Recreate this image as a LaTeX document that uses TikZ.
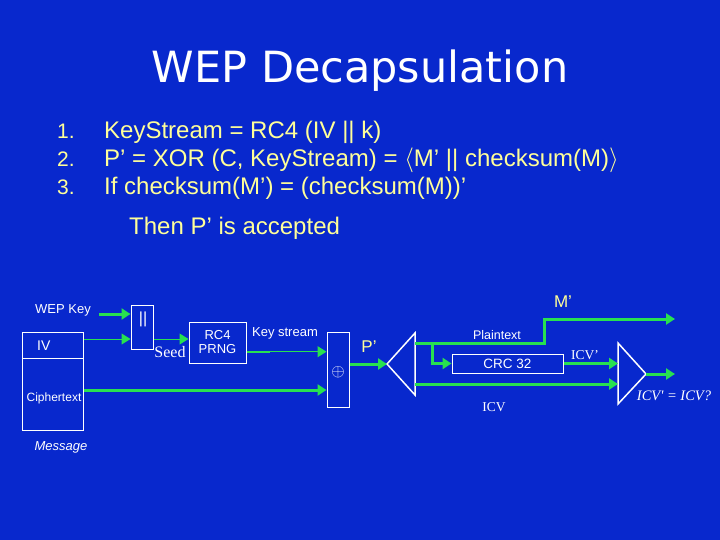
\documentclass[tikz,border=0pt]{standalone}
\usepackage{fontspec}
\setmainfont{Liberation Sans}
\newfontfamily\titlefont{DejaVu Sans}
\newfontfamily\serifrm{Liberation Serif}
\usetikzlibrary{arrows.meta}
\definecolor{bgblue}{RGB}{8,40,205}
\definecolor{flow}{RGB}{40,225,80}
\definecolor{ltyellow}{RGB}{255,255,153}
\begin{document}
\begin{tikzpicture}[x=1pt,y=-1pt,
  box/.style={draw=white,line width=1pt,fill=bgblue,inner sep=0pt},
  tip/.style={-{Triangle[length=9pt,width=11pt]}},
  thickflow/.style={draw=flow,line width=3pt,tip},
  thinflow/.style={draw=flow,line width=1pt,tip},
  tri/.style={draw=white,line width=1.5pt,line join=miter},
  lbl/.style={text=white,inner sep=0pt,font=\fontsize{13}{15}\selectfont},
  serlbl/.style={text=white,inner sep=0pt,font=\serifrm\fontsize{13.5}{15}\selectfont},
  item/.style={text=ltyellow,inner sep=0pt,anchor=base west,font=\fontsize{24}{28}\selectfont},
  num/.style={text=ltyellow,inner sep=0pt,anchor=base west,font=\fontsize{21}{25}\selectfont}]
\fill[bgblue] (0,0) rectangle (720,540);
\useasboundingbox (0,0) rectangle (720,540);

% title
\node[anchor=base,text=white,inner sep=0pt,font=\titlefont\fontsize{43}{50}\selectfont] (title) at (360,83) {WEP Decapsulation};

% list
\node[num] (n1) at (57,139) {1.};
\node[num] (n2) at (57,167) {2.};
\node[num] (n3) at (57,195) {3.};
\node[item] (l1) at (104,139) {KeyStream = RC4 (IV || k)};
\node[item] (l2) at (104,167) {P’ = XOR (C, KeyStream) = $\langle$M’ || checksum(M)$\rangle$};
\node[item] (l3) at (104,195) {If checksum(M’) = (checksum(M))’};
\node[item] (l4) at (129,234) {Then P’ is accepted};

% boxes
\node[box,minimum width=22pt,minimum height=44pt] (cat) at (142,327) {};
\node[lbl,anchor=north,font=\fontsize{16}{18}\selectfont] (catlbl) at (143,312) {||};
\node[box,minimum width=61pt,minimum height=26pt] (iv) at (52.5,345) {};
\node[lbl,anchor=west,font=\fontsize{14}{16}\selectfont] (ivlbl) at (37,346) {IV};
\node[box,minimum width=61pt,minimum height=72pt] (ct) at (52.5,394) {};
\node[lbl,font=\fontsize{12}{14}\selectfont] (ctlbl) at (54,398) {Ciphertext};
\node[lbl,font=\itshape\fontsize{13}{15}\selectfont] (msg) at (61,447) {Message};
\node[box,minimum width=57pt,minimum height=41pt,text=white,align=center,font=\fontsize{13}{14}\selectfont] (rc4) at (217.5,342.5) {RC4\\PRNG};
\node[box,minimum width=22pt,minimum height=75pt] (xor) at (338,369.5) {};
\node[text=white,inner sep=0pt,font=\fontsize{16}{18}\selectfont] (xorlbl) at (338,372) {$\oplus$};
\node[box,minimum width=111pt,minimum height=19pt,text=white,font=\fontsize{13.5}{15}\selectfont] (crc) at (507.5,363.5) {CRC 32};

% triangles
\coordinate (t1tip) at (387,364);
\coordinate (t1top) at (415,333);
\coordinate (t1bot) at (415,395);
\draw[tri] (t1tip) -- (t1top) -- (t1bot) -- cycle;
\coordinate (t2top) at (618,343);
\coordinate (t2bot) at (618,404);
\coordinate (t2tip) at (646,374);
\draw[tri] (t2top) -- (t2tip) -- (t2bot) -- cycle;

% labels
\node[lbl] (wepkey) at (63,310) {WEP Key};
\node[lbl] (kslbl) at (285,333) {Key stream};
\node[text=white,inner sep=0pt,font=\serifrm\fontsize{16}{18}\selectfont] (seed) at (170,352) {Seed};
\node[text=ltyellow,inner sep=0pt,font=\fontsize{17}{19}\selectfont] (plbl) at (369,347) {P’};
\node[lbl,font=\fontsize{12.5}{14}\selectfont] (ptlbl) at (497,335) {Plaintext};
\node[text=ltyellow,inner sep=0pt,font=\fontsize{17}{19}\selectfont] (mlbl) at (563,302) {M’};
\node[serlbl] (icvplbl) at (585,355) {ICV’};
\node[serlbl] (icvlbl) at (494,407) {ICV};
\node[text=white,inner sep=0pt,font=\serifrm\itshape\fontsize{14.5}{16}\selectfont] (cmplbl) at (674,396) {ICV' = ICV?};

% helper coordinates
\coordinate (wk) at (99,314);
\coordinate (seedy) at (0,339);
\coordinate (ksy) at (0,351.7);
\coordinate (ksthick) at (270,351.7);
\coordinate (cty) at (0,390);
\coordinate (pty) at (0,343);
\coordinate (mstep) at (544,343);
\coordinate (mout) at (675,319);
\coordinate (br) at (432,343);
\coordinate (icvy) at (0,384);
\coordinate (okout) at (675,374);

% connectors
\draw[thickflow] (wk) -- (wk -| cat.west);
\draw[thinflow] (iv.east |- seedy) -- (cat.west |- seedy);
\draw[thinflow] (cat.east |- seedy) -- (rc4.west |- seedy);
\draw[thinflow] (rc4.east |- ksy) -- (xor.west |- ksy);
\draw[draw=flow,line width=2pt] (rc4.east |- ksy) -- (ksthick);
\draw[thickflow] (ct.east |- cty) -- (xor.west |- cty);
\draw[thickflow] (xor.east |- t1tip) -- (t1tip);
\draw[thickflow] (t1top |- pty) -- (mstep) |- (mout);
\draw[thickflow] (br) |- (crc.west);
\draw[thickflow] (crc.east) -- (t2top |- crc.east);
\draw[thickflow] (t1top |- icvy) -- (t2top |- icvy);
\draw[thickflow] (t2tip) -- (okout);
\end{tikzpicture}
\end{document}
